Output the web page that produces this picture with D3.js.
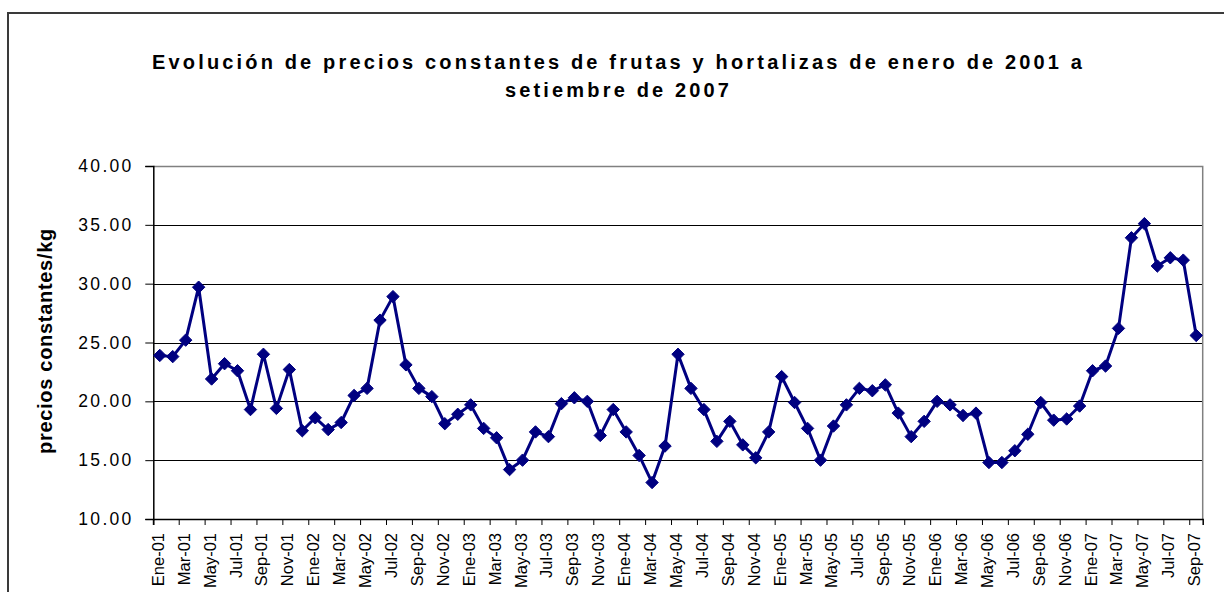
<!DOCTYPE html>
<html>
<head>
<meta charset="utf-8">
<script src="https://cdn.jsdelivr.net/npm/d3@7"></script>
<style>
  html, body { margin: 0; padding: 0; background: #fff; }
  svg { display: block; }
  text { font-family: "Liberation Sans", Arial, sans-serif; }
</style>
</head>
<body>
<svg id="chart" width="1224" height="592"></svg>
<script>
const monthNames = ["Ene","Feb","Mar","Abr","May","Jun","Jul","Ago","Sep","Oct","Nov","Dic"];
const years = ["01","02","03","04","05","06","07"];
const categories = [];
years.forEach(y => monthNames.forEach(m => categories.push(m + "-" + y)));
categories.length = 81; // Ene-01 .. Sep-07

const values = [
  23.9, 23.8, 25.2, 29.7, 21.9, 23.2, 22.6, 19.3, 24.0, 19.4, 22.7, 17.5,
  18.6, 17.6, 18.2, 20.5, 21.1, 26.9, 28.9, 23.1, 21.1, 20.4, 18.1, 18.9,
  19.7, 17.7, 16.9, 14.2, 15.0, 17.4, 17.0, 19.8, 20.3, 20.0, 17.1, 19.3,
  17.4, 15.4, 13.1, 16.2, 24.0, 21.1, 19.3, 16.6, 18.3, 16.3, 15.2, 17.4,
  22.1, 19.9, 17.7, 15.0, 17.9, 19.7, 21.1, 20.9, 21.4, 19.0, 17.0, 18.3,
  20.0, 19.7, 18.8, 19.0, 14.8, 14.8, 15.8, 17.2, 19.9, 18.4, 18.5, 19.6,
  22.6, 23.0, 26.2, 33.9, 35.1, 31.5, 32.2, 32.0, 25.6
];
const yTicks = [10, 15, 20, 25, 30, 35, 40];
const titleLines = ["Evolución de precios constantes de frutas y hortalizas de enero de 2001 a", "setiembre de 2007"];
const yTitle = "precios constantes/kg";

const svg = d3.select("#chart");
const L = 153.3, R = 1202.7, T = 166, B = 519;

// outer chart border
svg.append("rect").attr("x", 8).attr("y", 13).attr("width", 1240).attr("height", 620)
  .attr("fill", "#fff").attr("stroke", "#3a3a3a").attr("stroke-width", 2);

const x = d3.scaleBand().domain(categories).range([L, R]).paddingInner(0).paddingOuter(0);
const y = d3.scaleLinear().domain([10, 40]).range([B, T]);
const bw = x.bandwidth();
const cx = c => x(c) + bw / 2;

// title
const title = svg.append("g");
const t1 = title.append("text").attr("x", 617).attr("y", 69).attr("text-anchor", "middle")
  .attr("font-size", 20).attr("font-weight", "bold").attr("fill", "#000").text(titleLines[0]);
const natural = t1.node().getComputedTextLength();
const ls = (930 - natural) / (titleLines[0].length - 1);
t1.style("letter-spacing", ls + "px");
title.append("text").attr("x", 617 + ls / 2).attr("y", 97).attr("text-anchor", "middle")
  .attr("font-size", 20).attr("font-weight", "bold").attr("fill", "#000")
  .style("letter-spacing", ls + "px").text(titleLines[1]);
t1.attr("x", 617 + ls / 2);

// gridlines
svg.append("g").selectAll("line").data(yTicks.filter(v => v > 10 && v < 40)).join("line")
  .attr("x1", L).attr("x2", R).attr("y1", d => Math.round(y(d)) + 0.5).attr("y2", d => Math.round(y(d)) + 0.5)
  .attr("stroke", "#000").attr("stroke-width", 1);

// plot border top/right
svg.append("path")
  .attr("d", `M${L},${Math.round(T)+0.5}H${R}V${B}`)
  .attr("fill", "none").attr("stroke", "#808080").attr("stroke-width", 1.5);

// y axis
const yAxis = d3.axisLeft(y).tickValues(yTicks).tickSize(8).tickPadding(14).tickFormat(d3.format(".2f"));
const gy = svg.append("g").attr("transform", `translate(${L},0)`).call(yAxis);
gy.select(".domain").attr("stroke", "#000").attr("stroke-width", 1.5);
gy.selectAll(".tick line").attr("stroke", "#000").attr("stroke-width", 1);
gy.selectAll(".tick text").attr("font-size", 17.5).attr("fill", "#000")
  .attr("font-family", "'Liberation Sans', Arial, sans-serif")
  .style("letter-spacing", "2.3px").attr("dx", "2.3");

// x axis
const tickCats = categories.filter((c, i) => i % 2 === 0);
const xAxis = d3.axisBottom(x).tickValues(tickCats).tickSize(6).tickFormat(d => d);
const gx = svg.append("g").attr("transform", `translate(0,${B})`).call(xAxis);
gx.select(".domain").attr("stroke", "#000").attr("stroke-width", 1.5);
gx.selectAll(".tick line").attr("stroke", "#000").attr("transform", `translate(${-bw/2},0)`);
gx.selectAll(".tick text")
  .attr("font-size", 16.5).attr("fill", "#000")
  .attr("font-family", "'Liberation Sans', Arial, sans-serif")
  .attr("text-anchor", "end").attr("dominant-baseline", "central")
  .attr("transform", "rotate(-90)")
  .attr("x", -14).attr("y", -2).attr("dy", null);

// y title
svg.append("text").attr("transform", "translate(45,341) rotate(-90)")
  .attr("text-anchor", "middle").attr("dominant-baseline", "central")
  .attr("font-size", 20).attr("font-weight", "bold").attr("fill", "#000")
  .style("letter-spacing", "0.7px").text(yTitle);

// series line
const data = categories.map((c, i) => ({c, v: values[i]}));
svg.append("path").datum(data)
  .attr("d", d3.line().x(d => cx(d.c)).y(d => y(d.v)))
  .attr("fill", "none").attr("stroke", "#000080").attr("stroke-width", 3).attr("stroke-linejoin", "round");

// diamond markers
const sym = d3.symbol().type(d3.symbolDiamond2).size(98);
svg.append("g").selectAll("path").data(data).join("path")
  .attr("transform", d => `translate(${cx(d.c)},${y(d.v)})`)
  .attr("d", sym).attr("fill", "#000080").attr("stroke", "#000080").attr("stroke-width", 1);
</script>
</body>
</html>
